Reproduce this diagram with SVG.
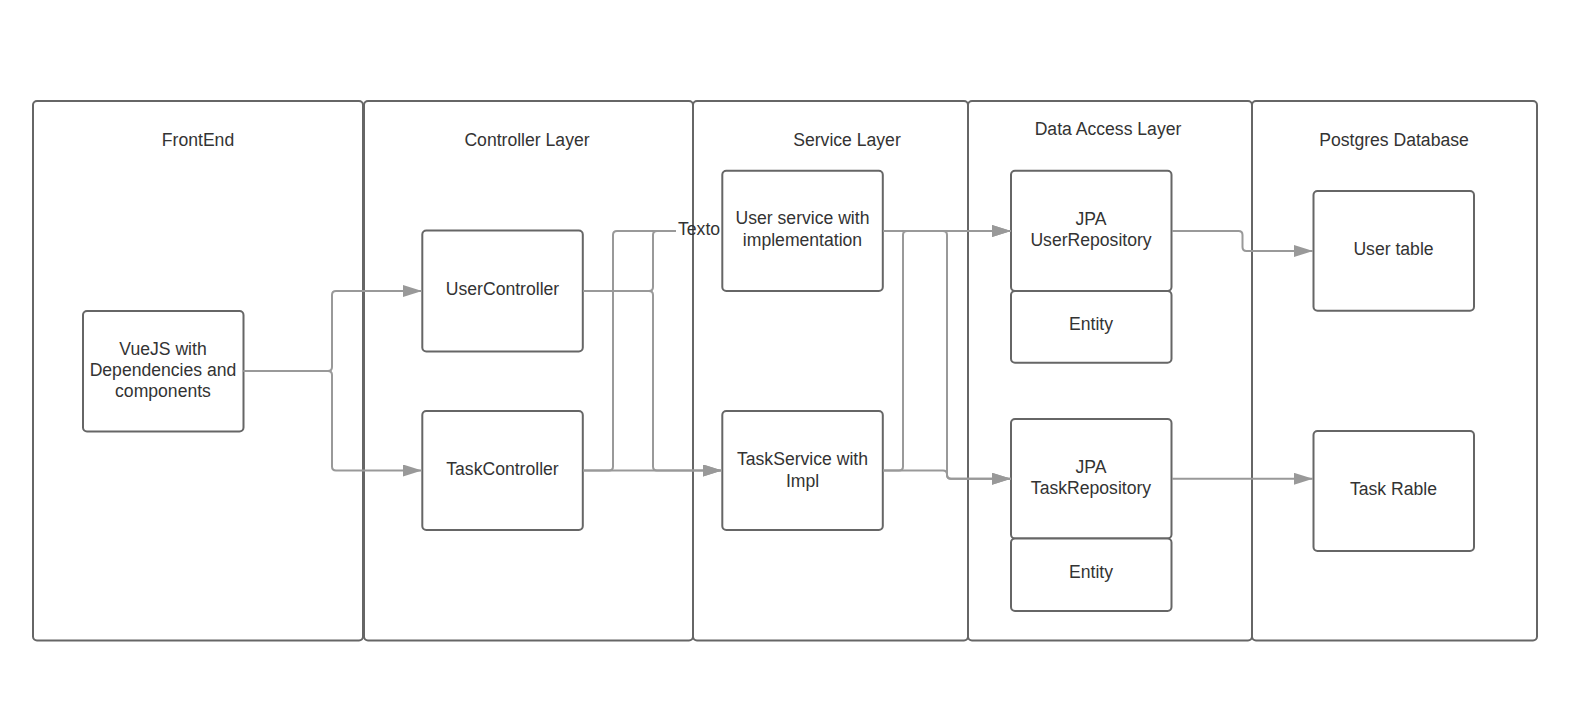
<svg xmlns="http://www.w3.org/2000/svg" width="1584" height="709" viewBox="0 0 1584 709">
<style>
.lane{fill:#ffffff;stroke:#666666;stroke-width:2}
.box{fill:#ffffff;stroke:#666666;stroke-width:2}
.t{font-family:"Liberation Sans",Arial,sans-serif;font-size:17.6px;fill:#333333;text-anchor:middle}
.c{fill:none;stroke:#999999;stroke-width:2}
</style>
<defs>
<marker id="ah" markerUnits="userSpaceOnUse" markerWidth="20" markerHeight="13" refX="19" refY="6" orient="auto">
<path d="M0,0 L19,6 L0,12 z" fill="#999999"/>
</marker>
</defs>
<rect width="1584" height="709" fill="#ffffff"/>
<g id="lane-frontend"><rect class="lane" x="33" y="101" width="330" height="539.5" rx="4"/><text class="t" x="198" y="146">FrontEnd</text></g>
<g id="lane-controller"><rect class="lane" x="364" y="101" width="329" height="539.5" rx="4"/><text class="t" x="527" y="146">Controller Layer</text></g>
<g id="lane-service"><rect class="lane" x="693" y="101" width="275" height="539.5" rx="4"/><text class="t" x="847" y="146">Service Layer</text></g>
<g id="lane-data"><rect class="lane" x="968" y="101" width="284" height="539.5" rx="4"/><text class="t" x="1108" y="135">Data Access Layer</text></g>
<g id="lane-postgres"><rect class="lane" x="1252" y="101" width="285" height="539.5" rx="4"/><text class="t" x="1394" y="146">Postgres Database</text></g>

<g id="vuejs"><rect class="box" x="83" y="311" width="160.5" height="120.5" rx="4"/><text class="t" x="163" y="354.5">VueJS with</text><text class="t" x="163" y="376">Dependencies and</text><text class="t" x="163" y="397">components</text></g>
<g id="usercontroller"><rect class="box" x="422.3" y="230.5" width="160.5" height="121" rx="4"/><text class="t" x="502.5" y="295">UserController</text></g>
<g id="taskcontroller"><rect class="box" x="422.3" y="411" width="160.5" height="119" rx="4"/><text class="t" x="502.5" y="475">TaskController</text></g>
<g id="userservice"><rect class="box" x="722.3" y="170.7" width="160.5" height="120.3" rx="4"/><text class="t" x="802.5" y="224">User service with</text><text class="t" x="802.5" y="246.4">implementation</text></g>
<g id="taskservice"><rect class="box" x="722.3" y="411" width="160.5" height="119" rx="4"/><text class="t" x="802.5" y="464.6">TaskService with</text><text class="t" x="802.5" y="487">Impl</text></g>
<g id="userrepository"><rect class="box" x="1011" y="170.7" width="160.5" height="120.3" rx="4"/><text class="t" x="1091" y="225">JPA</text><text class="t" x="1091" y="246.4">UserRepository</text></g>
<g id="userentity"><rect class="box" x="1011" y="291" width="160.5" height="71.7" rx="4"/><text class="t" x="1091" y="330.3">Entity</text></g>
<g id="taskrepository"><rect class="box" x="1011" y="419" width="160.5" height="119.5" rx="4"/><text class="t" x="1091" y="472.7">JPA</text><text class="t" x="1091" y="494">TaskRepository</text></g>
<g id="taskentity"><rect class="box" x="1011" y="538.5" width="160.5" height="72.5" rx="4"/><text class="t" x="1091" y="577.8">Entity</text></g>
<g id="usertable"><rect class="box" x="1313.5" y="191" width="160.5" height="119.7" rx="4"/><text class="t" x="1393.5" y="254.5">User table</text></g>
<g id="taskrable"><rect class="box" x="1313.5" y="431" width="160.5" height="120" rx="4"/><text class="t" x="1393.5" y="495">Task Rable</text></g>

<g id="connectors">
<path class="c" marker-end="url(#ah)" d="M243.5,371 H328 Q332,371 332,367 V295 Q332,291 336,291 H422"/>
<path class="c" marker-end="url(#ah)" d="M243.5,371 H328 Q332,371 332,375 V466.5 Q332,470.5 336,470.5 H422"/>
<path class="c" d="M583,291 H649 Q653,291 653,287 V235 Q653,231 657,231 H676"/>
<path class="c" marker-end="url(#ah)" d="M583,291 H649 Q653,291 653,295 V466.5 Q653,470.5 657,470.5 H722"/>
<path class="c" d="M583,470.5 H609 Q613,470.5 613,466.5 V235 Q613,231 617,231 H676"/>
<path class="c" marker-end="url(#ah)" d="M583,470.5 H722"/>
<text class="t" x="678" y="234.5" style="text-anchor:start">Texto</text>
<path class="c" marker-end="url(#ah)" d="M883,231 H1011"/>
<path class="c" marker-end="url(#ah)" d="M883,231 H943 Q947,231 947,235 V474.8 Q947,478.8 951,478.8 H1011"/>
<path class="c" marker-end="url(#ah)" d="M883,470.5 H899 Q903,470.5 903,466.5 V235 Q903,231 907,231 H1011"/>
<path class="c" marker-end="url(#ah)" d="M883,470.5 H943 Q947,470.5 947,474.5 Q947,478.8 951,478.8 H1011"/>
<path class="c" marker-end="url(#ah)" d="M1172,231 H1238.5 Q1242.5,231 1242.5,235 V247 Q1242.5,251 1246.5,251 H1313"/>
<path class="c" marker-end="url(#ah)" d="M1172,478.8 H1313"/>
</g>
</svg>
